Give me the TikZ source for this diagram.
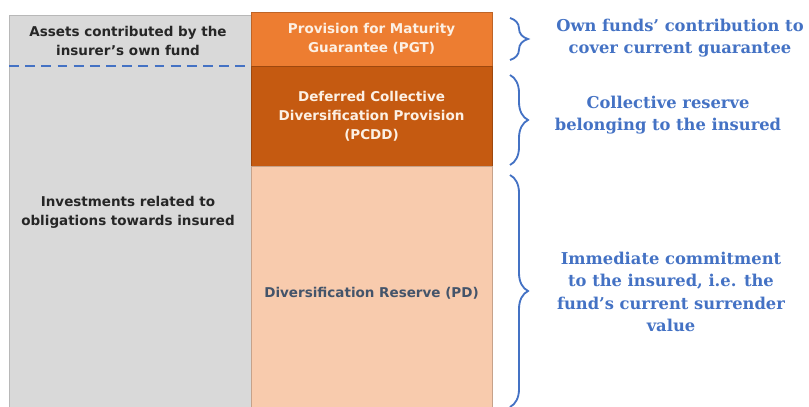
\documentclass[tikz,border=0pt]{standalone}
\usepackage{fontspec}
\newfontfamily\boxfont{DejaVu Sans}
\newfontfamily\notefont{DejaVu Serif}
\usetikzlibrary{decorations.pathreplacing}

\definecolor{pgtorange}{RGB}{237,125,49}
\definecolor{pcddorange}{RGB}{197,90,17}
\definecolor{pdpeach}{RGB}{248,203,173}
\definecolor{fundgray}{RGB}{217,217,217}
\definecolor{noteblue}{RGB}{68,114,196}
\definecolor{pdtext}{RGB}{68,84,106}
\definecolor{cream}{RGB}{252,240,228}

\begin{document}
\begin{tikzpicture}[x=0.025cm, y=-0.025cm, every node/.style={outer sep=0pt, inner sep=0pt},
	block/.style={draw=#1!80!black, fill=#1, anchor=north west, minimum width=6.025cm, line width=0.5pt},
	boxtext/.style={font=\boxfont\bfseries\fontsize{9.6}{13.6}\selectfont, align=center},
	note/.style={font=\notefont\bfseries\fontsize{11.6}{16}\selectfont, text=noteblue, align=center},
	curly/.style={draw=noteblue, line width=1.3pt, decorate, decoration={brace, amplitude=0.45cm}}]
	
	\useasboundingbox (0, 0) rectangle (809, 407);
	
	% linke Spalte
	\node[block=fundgray, draw=fundgray!85!black, minimum width=6.05cm, minimum height=9.8cm] (fund) at (9, 15) {};
	\node[boxtext, text=black!85] (own) at (128, 41) {Assets contributed by the\\insurer’s own fund};
	\node[boxtext, text=black!85] (invest) at (128, 212) {Investments related to\\obligations towards insured};
	\draw[noteblue, line width=1pt, dash pattern=on 7pt off 4.5pt] (fund.west |- 0, 66) -- (251, 66);
	
	% rechte Spalte
	\node[block=pgtorange, minimum height=1.35cm, boxtext, text=cream] (pgt) at (251, 12) {Provision for Maturity\\Guarantee (PGT)};
	\node[block=pcddorange, minimum height=2.5cm, boxtext, text=cream] (pcdd) at (251, 66) {Deferred Collective\\Diversification Provision\\(PCDD)};
	\node[block=pdpeach, minimum height=6.025cm, boxtext, text=pdtext] (pd) at (251, 166) {\\[3pt]Diversification Reserve (PD)};
	
	% Klammern
	\coordinate (pgttop) at (510, 18);
	\coordinate (pgtbot) at (510, 60);
	\coordinate (pcddtop) at (510, 75);
	\coordinate (pcddbot) at (510, 165);
	\coordinate (pdtop) at (510, 175);
	\coordinate (pdbot) at (510, 407);
	\draw[curly] (pgttop) -- (pgtbot);
	\draw[curly] (pcddtop) -- (pcddbot);
	\draw[curly] (pdtop) -- (pdbot);
	
	\node[note] (pgtnote) at (680, 38) {Own funds’ contribution to\\cover current guarantee};
	\node[note] (pcddnote) at (668, 115) {Collective reserve\\belonging to the insured};
	\node[note] (pdnote) at (671, 292) {Immediate commitment\\to the insured, i.e. the\\fund’s current surrender\\value};
\end{tikzpicture}
\end{document}
